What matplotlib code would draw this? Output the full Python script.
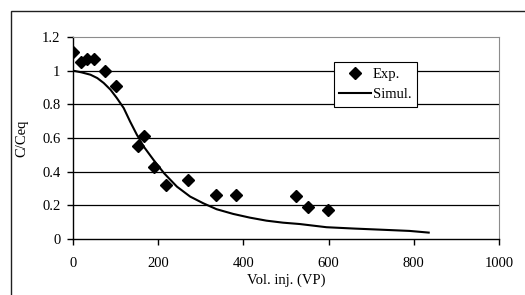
import matplotlib
matplotlib.use('Agg')
import matplotlib.pyplot as plt
from matplotlib.patches import Rectangle

plt.rcParams['font.family'] = ['Liberation Serif', 'DejaVu Serif']

# experimental points
exp_vol = [0, 18, 33, 50, 74, 100, 152, 167, 190, 218, 270, 336, 382, 523, 552, 598]
exp_c = [1.11, 1.05, 1.07, 1.07, 1.0, 0.91, 0.55, 0.61, 0.43, 0.32, 0.35, 0.26, 0.26, 0.255, 0.19, 0.173]

# simulated curve
sim_vol = [0, 20, 41, 57, 72, 88, 103, 119, 134, 150, 166, 189, 214, 244, 275, 306, 337, 376,
           415, 454, 493, 532, 595, 660, 735, 790, 835]
sim_c = [1.0, 0.99, 0.976, 0.956, 0.927, 0.887, 0.837, 0.778, 0.698, 0.619, 0.549, 0.47, 0.39,
         0.311, 0.252, 0.212, 0.177, 0.149, 0.127, 0.109, 0.097, 0.089, 0.07, 0.062, 0.054, 0.048, 0.038]

xticks = [0, 200, 400, 600, 800, 1000]
yticks = [0, 0.2, 0.4, 0.6, 0.8, 1.0, 1.2]
ytick_labels = ['0', '0.2', '0.4', '0.6', '0.8', '1', '1.2']

W, H = 525, 295
fig = plt.figure(figsize=(W / 100, H / 100), dpi=100)

# outer chart frame (runs off the image on right and bottom)
fig.patches.append(Rectangle((11 / W, -0.1), 1.2, 1 - 11 / H + 0.1, transform=fig.transFigure,
                             fill=False, edgecolor='#202020', linewidth=1.0))

ax = fig.add_axes([73 / W, (H - 239) / H, 426 / W, 202 / H])

ax.plot(sim_vol, sim_c, color='black', linewidth=1.5, label='Simul.', zorder=3)
ax.plot(exp_vol, exp_c, linestyle='none', marker='D', markersize=6, color='black', label='Exp.', zorder=4)

ax.set_xlim(0, 1000)
ax.set_ylim(0, 1.2)
ax.set_xticks(xticks)
ax.set_yticks(yticks)
ax.set_yticklabels(ytick_labels)
ax.tick_params(direction='out', length=4, width=1, labelsize=10.5, colors='black')
ax.tick_params(axis='x', pad=9)
ax.tick_params(axis='y', pad=5)

for y in yticks[1:-1]:
    ax.axhline(y, color='black', linewidth=0.9, zorder=1)

ax.spines['top'].set_color('#8c8c8c')
ax.spines['right'].set_color('#8c8c8c')
ax.spines['left'].set_linewidth(1.0)
ax.spines['bottom'].set_linewidth(1.0)

ax.set_xlabel('Vol. inj. (VP)', fontsize=10.5)
ax.set_ylabel('C/Ceq', fontsize=10.5)
ax.xaxis.set_label_coords(0.5, -0.17)
ax.yaxis.set_label_coords(-0.104, 0.5)

handles, labels = ax.get_legend_handles_labels()
leg = ax.legend(handles[::-1], labels[::-1], loc='center', bbox_to_anchor=(0.71, 0.765),
                fontsize=10.5, frameon=True, fancybox=False, framealpha=1,
                edgecolor='black', handlelength=2.2, handletextpad=0.1,
                borderpad=0.4, labelspacing=0.5)
leg.get_frame().set_linewidth(0.8)

fig.savefig('out.png', dpi=100)
